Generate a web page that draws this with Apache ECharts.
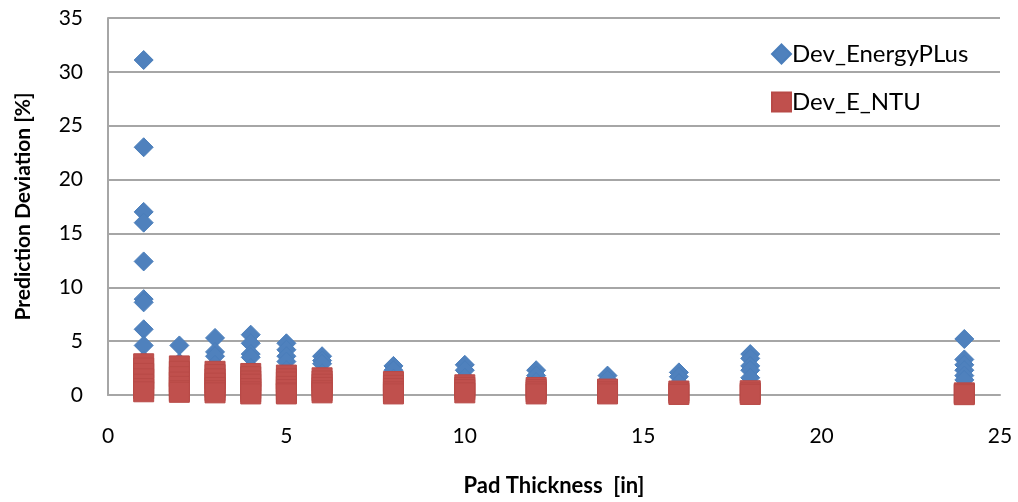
<!DOCTYPE html>
<html>
<head>
<meta charset="utf-8">
<script src="https://cdn.jsdelivr.net/npm/echarts@6/dist/echarts.min.js"></script>
<style>
  html, body { margin: 0; padding: 0; background: #ffffff; }
  #chart { width: 1018px; height: 502px; }
</style>
</head>
<body>
<div id="chart"></div>
<script>
// Pad thickness values (in) and the deviations measured at each one
const thickness = [1, 2, 3, 4, 5, 6, 8, 10, 12, 14, 16, 18, 24];

const devEnergyPlus = [
  [31.1, 23.0, 17.0, 16.0, 12.4, 8.9, 8.6, 6.1, 4.6, 3.2, 2.0],
  [4.6, 3.0, 1.8],
  [5.3, 4.0, 3.6, 2.8],
  [5.6, 4.8, 3.8, 3.5, 2.5],
  [4.8, 4.2, 3.6, 3.1, 2.3],
  [3.6, 3.2, 2.9, 2.0],
  [2.7, 2.3, 1.5],
  [2.8, 2.3, 1.6],
  [2.3, 1.8, 1.2],
  [1.8, 1.4],
  [2.1, 1.7, 1.1],
  [3.8, 3.4, 2.7, 2.3, 1.6],
  [5.2, 3.3, 2.8, 2.3, 1.8, 1.4]
];

const devENTU = [
  [2.9, 2.5, 2.0, 1.5, 1.0, 0.6, 0.3],
  [2.7, 2.2, 1.7, 1.2, 0.8, 0.4, 0.25],
  [2.2, 1.9, 1.5, 1.1, 0.7, 0.4, 0.2],
  [2.0, 1.7, 1.3, 1.0, 0.6, 0.3, 0.1],
  [1.85, 1.5, 1.2, 0.8, 0.5, 0.2, 0.1],
  [1.6, 1.3, 1.0, 0.7, 0.4, 0.2],
  [1.25, 0.9, 0.6, 0.3, 0.1],
  [0.95, 0.7, 0.5, 0.2],
  [0.7, 0.5, 0.3, 0.1],
  [0.55, 0.3, 0.1],
  [0.37, 0.2, 0.05],
  [0.4, 0.2, 0.05],
  [0.2, 0.1, 0.03]
];

const xTicks = { min: 0, max: 25, interval: 5 };
const yTicks = { min: 0, max: 35, interval: 5 };

function toPoints(groups) {
  const pts = [];
  thickness.forEach((t, i) => groups[i].forEach(v => pts.push([t, v])));
  return pts;
}

const FONT = 'Lato, "Open Sans", sans-serif';
const gridColor = '#a6a6a6';

const chart = echarts.init(document.getElementById('chart'), null, { renderer: 'canvas' });
chart.setOption({
  animation: false,
  backgroundColor: '#ffffff',
  grid: { left: 108, right: 18, top: 18, bottom: 107, containLabel: false, outerBoundsMode: 'none' },
  legend: {
    orient: 'vertical',
    left: 766,
    top: 37,
    itemGap: 24,
    itemWidth: 19,
    itemHeight: 19,
    textStyle: { fontFamily: FONT, fontSize: 24, color: '#000000', padding: [0, 0, 0, -4] },
    data: [
      { name: 'Dev_EnergyPLus', icon: 'diamond' },
      { name: 'Dev_E_NTU', icon: 'rect' }
    ]
  },
  xAxis: {
    type: 'value',
    min: xTicks.min, max: xTicks.max, interval: xTicks.interval,
    name: 'Pad Thickness  [in]',
    nameLocation: 'middle',
    nameGap: 80,
    nameTextStyle: { fontFamily: FONT, fontSize: 22, fontWeight: 'bold', color: '#000000' },
    axisLine: { show: true, lineStyle: { color: gridColor, width: 2 } },
    axisTick: { show: false },
    splitLine: { show: false },
    axisLabel: { fontFamily: FONT, fontSize: 21, color: '#000000', margin: 31 }
  },
  yAxis: {
    type: 'value',
    min: yTicks.min, max: yTicks.max, interval: yTicks.interval,
    name: 'Prediction Deviation [%]',
    nameLocation: 'middle',
    nameGap: 74,
    nameRotate: 90,
    nameTextStyle: { fontFamily: FONT, fontSize: 21, fontWeight: 'bold', color: '#000000' },
    axisLine: { show: true, lineStyle: { color: gridColor, width: 2 } },
    axisTick: { show: false },
    splitLine: { show: true, lineStyle: { color: gridColor, width: 2 } },
    axisLabel: { fontFamily: FONT, fontSize: 21, color: '#000000', margin: 25 }
  },
  series: [
    {
      name: 'Dev_EnergyPLus',
      type: 'scatter',
      symbol: 'diamond',
      symbolSize: 19,
      itemStyle: { color: '#4f81bd', borderColor: '#4a7ebb', borderWidth: 1, opacity: 1 },
      data: toPoints(devEnergyPlus),
      z: 2
    },
    {
      name: 'Dev_E_NTU',
      type: 'scatter',
      symbol: 'rect',
      symbolSize: 20,
      itemStyle: { color: '#c0504d', borderColor: '#b84a47', borderWidth: 1, opacity: 1 },
      data: toPoints(devENTU),
      z: 3
    }
  ]
});
</script>
</body>
</html>
